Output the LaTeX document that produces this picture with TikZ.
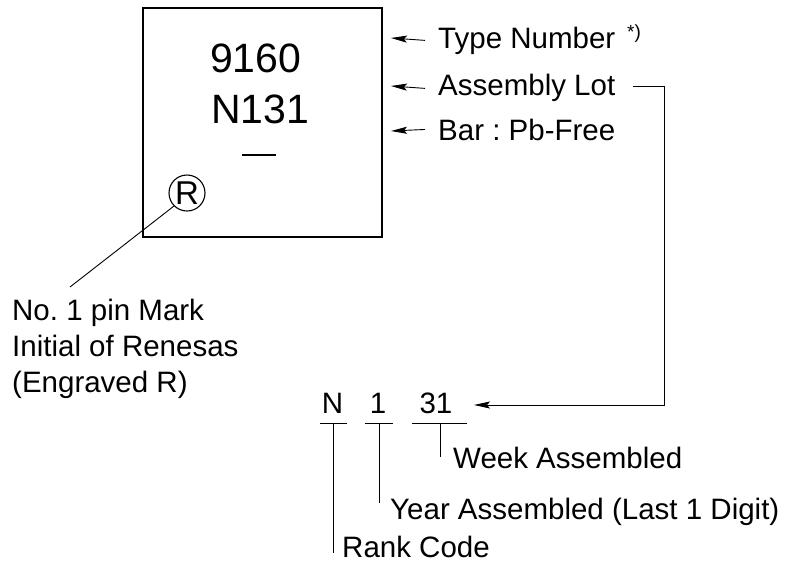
\documentclass[tikz,border=0pt]{standalone}
\usepackage{fontspec}
\setmainfont{Liberation Sans}
\usetikzlibrary{arrows.meta}
\frenchspacing
\begin{document}
\begin{tikzpicture}[x=1pt,y=-1pt,
  lbl/.style={inner sep=0pt,font=\fontsize{29.5}{36}\selectfont},
  big/.style={inner sep=0pt,font=\fontsize{41}{48}\selectfont},
  arr/.style={-{Stealth[length=16pt,width=7pt,inset=3pt]},line width=0.9pt},
  thin/.style={line width=0.9pt}]
\useasboundingbox (0,0) rectangle (790,563);
% package box
\draw[line width=1.8pt] (143,8) rectangle (382,237);
\node[big,anchor=base west] (tn) at (210,72) {9160};
\node[big,anchor=base west] (lot) at (211,123) {N131};
\draw[line width=1.8pt] (242,155) -- (276,155);
\node[circle,draw,line width=1.1pt,inner sep=0pt,minimum size=36pt,font=\fontsize{33}{36}\selectfont] (rmark) at (187,193) {R};
% right labels
\node[lbl,anchor=base west] (ltype) at (438,48) {Type Number};
\node[inner sep=0pt,anchor=base west,font=\fontsize{19}{22}\selectfont] (ast) at (627,38) {*)};
\node[lbl,anchor=base west] (lasm) at (438,95) {Assembly Lot};
\node[lbl,anchor=base west] (lbar) at (438,140) {Bar : Pb-Free};
\draw[arr] ([xshift=-13pt]ltype.west) -- (391,38);
\draw[arr] ([xshift=-13pt,yshift=-1pt]lasm.west) -- (391,86);
\draw[arr] ([xshift=-13pt]lbar.west) -- (391,131);
% left label
\node[lbl,anchor=base west,align=left] (lpin) at (12,392) {No. 1 pin Mark\\Initial of Renesas\\(Engraved R)};
\coordinate (pinEnd) at (70,287);
\draw[thin] (rmark.225) -- (pinEnd);
% lot code breakdown
\node[lbl,anchor=base] (cN) at (332.5,413) {N};
\node[lbl,anchor=base] (c1) at (378,413) {1};
\node[lbl,anchor=base] (c31) at (436,413) {31};
\coordinate (turn) at (664,86);
\draw[arr] (633,86) -- (turn) |- (474,405);
\draw[thin] (320,423) -- (347,423);
\draw[thin] (365,423) -- (393,423);
\draw[thin] (412,423) -- (467,423);
\node[lbl,anchor=base west] (lweek) at (453,468) {Week Assembled};
\node[lbl,anchor=base west] (lyear) at (390,519) {Year Assembled (Last 1 Digit)};
\node[lbl,anchor=base west] (lrank) at (342,557) {Rank Code};
\draw[thin] (440,423) -- (440,457);
\draw[thin] (379,423) -- (379,503);
\draw[thin] (333,423) -- (333,553);
\end{tikzpicture}
\end{document}
